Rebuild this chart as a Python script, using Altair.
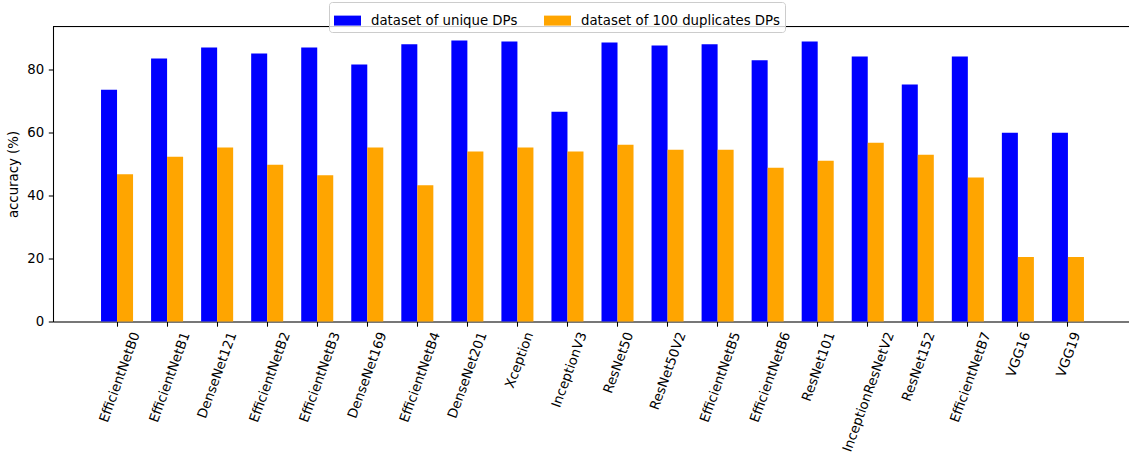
import altair as alt
import pandas as pd

# Model names along the x axis
models = [
    "EfficientNetB0", "EfficientNetB1", "DenseNet121", "EfficientNetB2",
    "EfficientNetB3", "DenseNet169", "EfficientNetB4", "DenseNet201",
    "Xception", "InceptionV3", "ResNet50", "ResNet50V2", "EfficientNetB5",
    "EfficientNetB6", "ResNet101", "InceptionResNetV2", "ResNet152",
    "EfficientNetB7", "VGG16", "VGG19",
]

# Accuracy (%) per model for each training set
unique_acc = [73.7, 83.6, 87.1, 85.2, 87.1, 81.7, 88.1, 89.3, 89.0, 66.7,
              88.7, 87.7, 88.1, 83.0, 89.0, 84.2, 75.3, 84.2, 60.0, 60.0]
dup_acc = [46.8, 52.4, 55.3, 49.8, 46.5, 55.3, 43.3, 54.0, 55.3, 54.0,
           56.2, 54.6, 54.6, 48.9, 51.1, 56.8, 53.0, 45.8, 20.5, 20.5]

series = ["dataset of unique DPs", "dataset of 100 duplicates DPs"]
colors = ["#0000ff", "#ffa500"]

rows = []
for name, a, b in zip(models, unique_acc, dup_acc):
    rows.append({"model": name, "series": series[0], "accuracy": a})
    rows.append({"model": name, "series": series[1], "accuracy": b})
df = pd.DataFrame(rows)

FONT = "DejaVu Sans"
FS = 13.3
y_top = max(unique_acc + dup_acc) * 1.05

bars = alt.Chart(df).mark_bar().encode(
    x=alt.X(
        "model:N",
        sort=models,
        scale=alt.Scale(paddingInner=0.36, paddingOuter=0.93, align=0.516),
        axis=alt.Axis(
            title=None,
            labelAngle=-70,
            labelAlign="right",
            labelBaseline="middle",
            labelOffset={"expr": "length(datum.label) * 1.15 + 3"},
            labelPadding=6,
            labelFontSize=FS,
            labelFont=FONT,
            labelColor="black",
            tickSize=4.7,
            tickColor="black",
            tickWidth=1.07,
            domainColor="black",
            domainWidth=1.07,
            labelOverlap=False,
            labelLimit=0,
        ),
    ),
    xOffset=alt.XOffset("series:N", sort=series, scale=alt.Scale(domain=series)),
    y=alt.Y(
        "accuracy:Q",
        scale=alt.Scale(domain=[0, y_top], nice=False, zero=True),
        axis=alt.Axis(
            title="accuracy (%)",
            values=[0, 20, 40, 60, 80],
            grid=False,
            labelFontSize=FS,
            labelFont=FONT,
            labelColor="black",
            titleFontSize=FS,
            titleFont=FONT,
            titleFontWeight="normal",
            titleColor="black",
            titlePadding=6,
            tickSize=4.7,
            tickColor="black",
            tickWidth=1.07,
            labelPadding=4.7,
            domainColor="black",
            domainWidth=1.07,
        ),
    ),
    color=alt.Color(
        "series:N",
        scale=alt.Scale(domain=series, range=colors),
        legend=alt.Legend(
            title=None,
            orient="none",
            legendX=276,
            legendY=-24.5,
            direction="horizontal",
            padding=5,
            strokeColor="#cccccc",
            fillColor="rgba(255,255,255,0.8)",
            cornerRadius=3,
            symbolType="M-1,-0.37H1V0.37H-1Z",
            symbolSize=729,
            symbolStrokeWidth=0,
            symbolOpacity=1,
            labelFont=FONT,
            labelFontSize=FS,
            labelColor="black",
            labelOffset=10,
            columnPadding=26,
            labelLimit=0,
        ),
    ),
)

# Top frame line of the plot area
top_line = alt.Chart(pd.DataFrame({"k": [0]})).mark_rule(
    color="black", strokeWidth=1.07
).encode(y=alt.value(0))

chart = alt.layer(bars, top_line).properties(
    width=1076,
    height=295,
    autosize=alt.AutoSizeParams(type="none"),
    padding={"left": 53, "top": 26.5, "right": 0, "bottom": 131.5},
).configure_view(stroke=None).configure(font=FONT)

chart.save("out.html", embed_options={"renderer": "svg", "actions": False})
